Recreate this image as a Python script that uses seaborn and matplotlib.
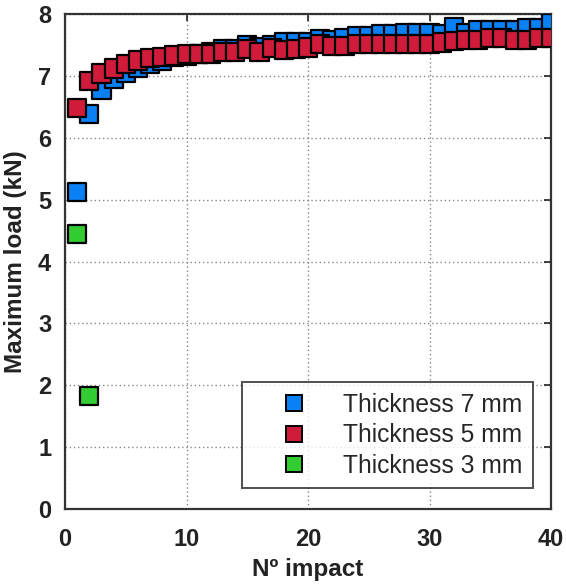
import matplotlib
matplotlib.use("Agg")
import matplotlib.pyplot as plt
import numpy as np
import pandas as pd
import seaborn as sns

# data
impact_7mm = list(range(1, 41))
load_7mm = [5.12, 6.38, 6.77, 6.95, 7.05, 7.13, 7.19, 7.25, 7.30, 7.33,
            7.36, 7.39, 7.43, 7.44, 7.50, 7.47, 7.50, 7.54, 7.54, 7.54,
            7.59, 7.58, 7.61, 7.65, 7.64, 7.68, 7.68, 7.70, 7.70, 7.69,
            7.67, 7.79, 7.69, 7.74, 7.74, 7.74, 7.74, 7.78, 7.78, 7.85]

impact_5mm = list(range(1, 41))
load_5mm = [6.48, 6.92, 7.04, 7.12, 7.19, 7.25, 7.29, 7.31, 7.33, 7.35,
            7.35, 7.35, 7.38, 7.38, 7.44, 7.39, 7.45, 7.42, 7.44, 7.46,
            7.51, 7.48, 7.48, 7.51, 7.51, 7.52, 7.51, 7.51, 7.51, 7.52,
            7.54, 7.56, 7.58, 7.58, 7.62, 7.62, 7.58, 7.58, 7.62, 7.62]

impact_3mm = [1, 2]
load_3mm = [4.44, 1.83]

labels = ["Thickness 7 mm", "Thickness 5 mm", "Thickness 3 mm"]
colors = ["#0A80F5", "#D01C3A", "#33CC33"]

df = pd.concat([
    pd.DataFrame({"impact": impact_7mm, "load": load_7mm, "series": labels[0]}),
    pd.DataFrame({"impact": impact_5mm, "load": load_5mm, "series": labels[1]}),
    pd.DataFrame({"impact": impact_3mm, "load": load_3mm, "series": labels[2]}),
], ignore_index=True)

sns.set_theme(style="white")
plt.rcParams["font.family"] = ["Liberation Sans", "DejaVu Sans"]

fig = plt.figure(figsize=(5.66, 5.87), dpi=100)
ax = fig.add_axes([0.115, 0.133, 0.8585, 0.843])

sns.scatterplot(data=df, x="impact", y="load", hue="series",
                hue_order=labels, palette=colors, marker="s", s=170,
                edgecolor="black", linewidth=1.6, ax=ax, zorder=3)

ax.set_xlim(0, 40)
ax.set_ylim(0, 8)
ax.set_xticks([0, 10, 20, 30, 40])
ax.set_yticks(range(0, 9))
ax.grid(True, ls=(0, (1, 2)), color="#888888", lw=1)
ax.tick_params(direction="in", top=True, right=True, length=5, width=1.2,
               labelsize=17, colors="#222222")
ax.tick_params(axis="x", pad=14)
ax.tick_params(axis="y", pad=10)
for lbl in ax.get_xticklabels() + ax.get_yticklabels():
    lbl.set_fontweight("bold")
for sp in ax.spines.values():
    sp.set_color("#333333")
    sp.set_linewidth(1.6)

ax.set_xlabel("Nº impact", fontsize=17.5, fontweight="bold", color="#222222", labelpad=5)
ax.set_ylabel("Maximum load (kN)", fontsize=17.5, fontweight="bold", color="#222222", labelpad=8)

handles, lbls = ax.get_legend_handles_labels()
leg = ax.legend(handles, lbls, loc="lower right", bbox_to_anchor=(0.963, 0.042),
                borderaxespad=0, fontsize=17.7, frameon=True, fancybox=False,
                handlelength=3.35, handletextpad=0.35, borderpad=0.42,
                labelspacing=0.27, markerscale=1.0)
leg.get_frame().set_edgecolor("#222222")
leg.get_frame().set_linewidth(1.4)
for h in leg.legend_handles:
    h.set_markersize(11.5)
    h.set_markeredgecolor("black")
    h.set_markeredgewidth(1.4)

fig.savefig("out.png", dpi=100, facecolor="white")
